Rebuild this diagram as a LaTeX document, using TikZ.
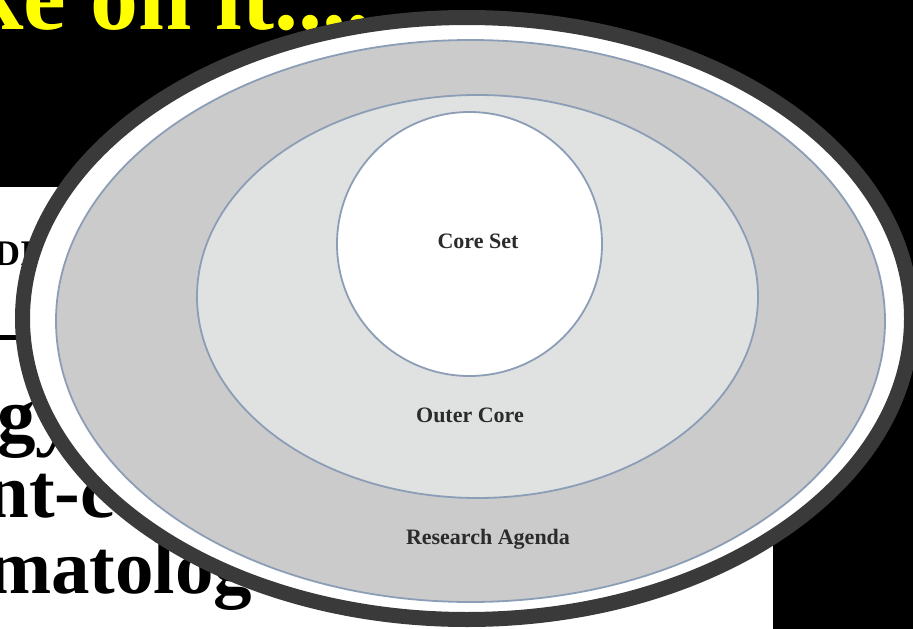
\documentclass[tikz,border=0pt]{standalone}
\usepackage{fontspec}
\setmainfont{Liberation Serif}
\usetikzlibrary{shapes.geometric,positioning}
\definecolor{ringdark}{HTML}{3A3A3A}
\definecolor{rimblue}{HTML}{8C9DB6}
\definecolor{agendagray}{HTML}{CBCBCB}
\definecolor{coregray}{HTML}{E0E2E2}
\definecolor{slideyellow}{HTML}{FFFF00}
\definecolor{labelgray}{HTML}{2B2B2B}
\tikzset{
  layer/.style={ellipse, draw=rimblue, line width=1.8pt, inner sep=0pt},
  ringlabel/.style={font=\fontsize{22}{24}\selectfont\bfseries, text=labelgray, inner sep=0pt, anchor=base},
  bodytext/.style={font=\fontsize{77}{79}\selectfont\bfseries, anchor=base west, inner sep=0pt},
}
\begin{document}
\begin{tikzpicture}[x=1pt,y=-1pt]
\fill[black] (0,0) rectangle (913,629);
\useasboundingbox (0,0) rectangle (913,629);
\clip (0,0) rectangle (913,629);
% page behind the picture
\fill[white] (0,187) rectangle (773,629);
\coordinate (ruleL) at (0,337);
\coordinate (ruleR) at (80,337);
\draw[line width=5pt] (ruleL) -- (ruleR);
\node[font=\fontsize{36}{38}\selectfont\bfseries, anchor=base west, inner sep=0pt] (hdr) at (-6,265) {DI};
\node[bodytext] (lineA) at (-3,441) {gy};
\node[bodytext] (lineB) at (-14,517) {nt-co};
\node[bodytext] (lineC) at (-13,593) {matolog};
\node[font=\fontsize{96}{100}\selectfont\bfseries, text=slideyellow, anchor=base west, inner sep=0pt] (title) at (-30,29) {ke on it....};
% nested sets
\node[ellipse, fill=white, draw=ringdark, line width=15pt, inner sep=0pt,
      minimum width=889pt, minimum height=602pt] (frame) at (467,318.5) {};
\node[layer, fill=agendagray, minimum width=829pt, minimum height=562pt] (agenda) at (470.5,321) {};
\node[layer, fill=coregray, minimum width=561pt, minimum height=403pt] (outer) at (477.5,296.5) {};
\node[layer, fill=white, minimum width=265pt, minimum height=264pt] (core) at (469.5,244) {};
\node[ringlabel] (coreLab) at (478,248) {Core Set};
\node[ringlabel] (outerLab) at (470,422) {Outer Core};
\node[ringlabel] (agendaLab) at (488,544) {Research Agenda};
\end{tikzpicture}
\end{document}
